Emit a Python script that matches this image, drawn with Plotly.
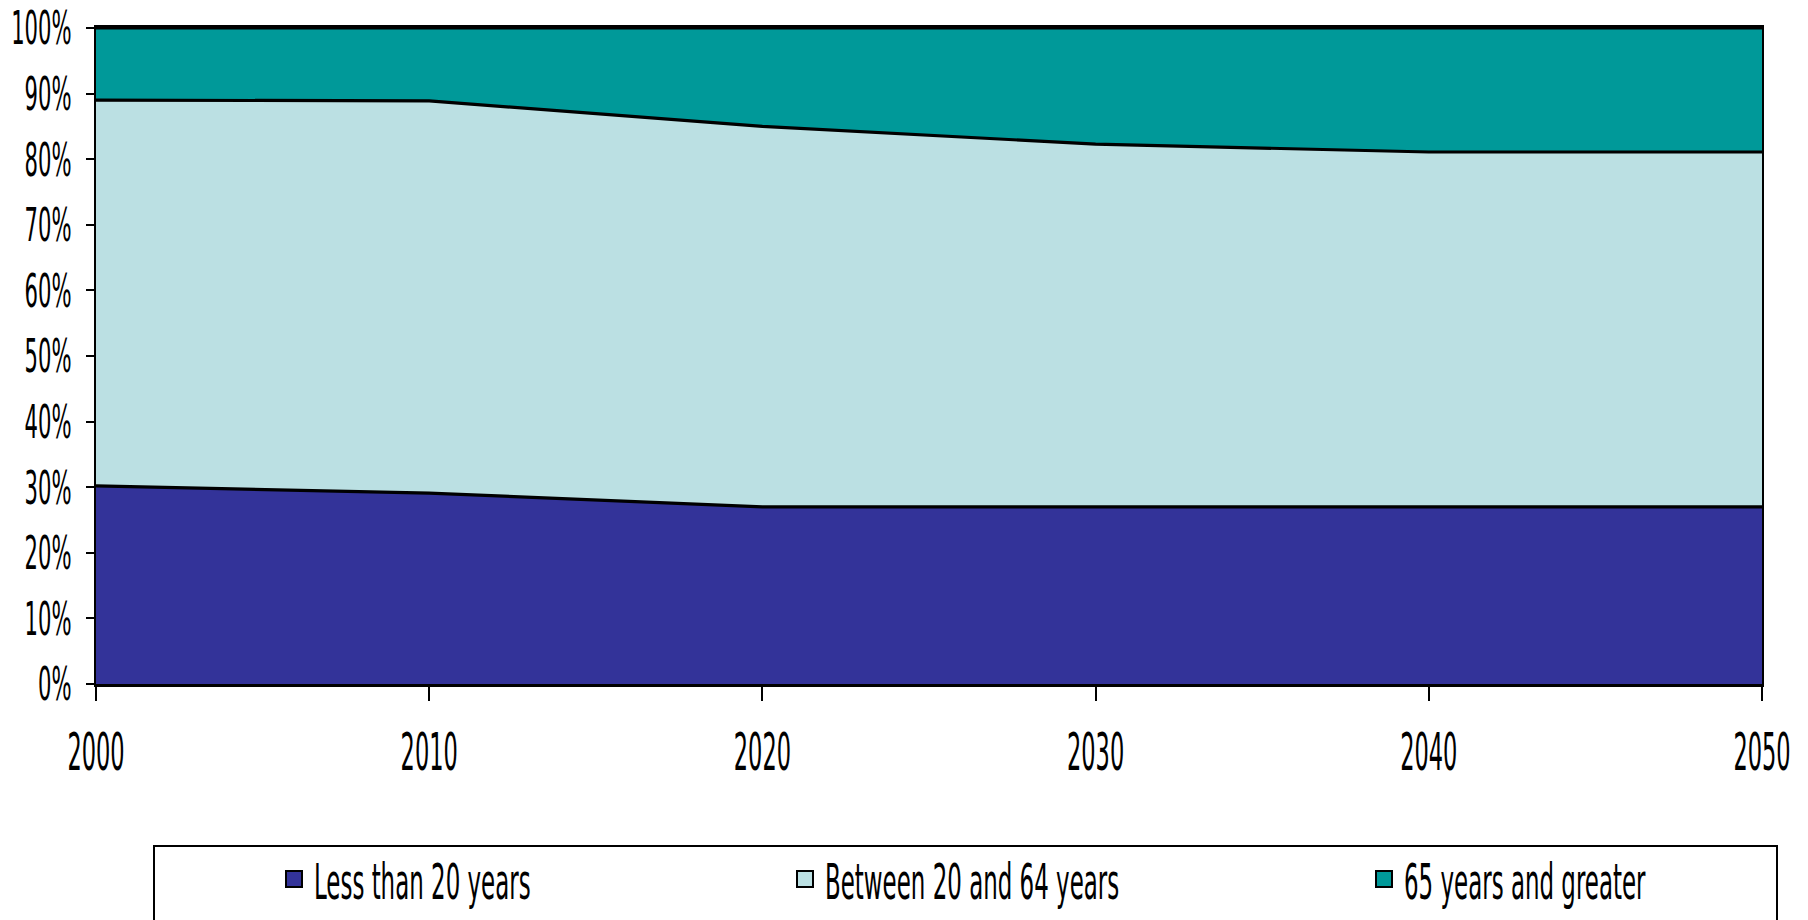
import plotly.graph_objects as go

years = [2000, 2010, 2020, 2030, 2040, 2050]
under_20 = [30.2, 29.1, 27.0, 27.0, 27.0, 27.0]
age_20_64 = [58.8, 59.8, 58.0, 55.3, 54.1, 54.1]
over_65 = [11.0, 11.1, 15.0, 17.7, 18.9, 18.9]

names = ["Less than 20 years", "Between 20 and 64 years", "65 years and greater"]
colors = ["#333399", "#BBE0E3", "#009999"]
y_ticks = list(range(0, 101, 10))
y_tick_text = [f"{v}%" for v in y_ticks]

FONT = "DejaVu Sans Condensed, Liberation Sans Narrow, Arial Narrow, sans-serif"

W, H = 1808, 920
L, R, T, B = 96, 46, 28, 236
pw, ph = W - L - R, H - T - B

def px_x(px):
    return (px - L) / pw

def px_y(py):
    return (H - B - py) / ph

fig = go.Figure()
for series, name, col in zip([under_20, age_20_64, over_65], names, colors):
    fig.add_trace(go.Scatter(
        x=years, y=series, name=name, mode="lines", stackgroup="one",
        fillcolor=col, line=dict(color="black", width=3.2), showlegend=False,
    ))
# legend entries (square swatches like the original), one legend per entry
legend_ids = ["legend", "legend2", "legend3"]
for name, col, lg in zip(names, colors, legend_ids):
    fig.add_trace(go.Scatter(
        x=[None], y=[None], name=name, mode="markers", legend=lg, showlegend=True,
        marker=dict(symbol="square", size=16, color=col, line=dict(color="black", width=2)),
    ))

legend_text_x = [315, 826, 1405]
common_legend = dict(orientation="h", yanchor="middle", xanchor="left",
                     bgcolor="rgba(0,0,0,0)", borderwidth=0,
                     font=dict(family=FONT, size=50, color="black"))
fig.update_layout(
    showlegend=True,
    legend=dict(x=px_x(legend_text_x[0] - 41), y=px_y(879), **common_legend),
    legend2=dict(x=px_x(legend_text_x[1] - 41), y=px_y(879), **common_legend),
    legend3=dict(x=px_x(legend_text_x[2] - 41), y=px_y(879), **common_legend),
)

fig.add_shape(type="rect", xref="paper", yref="paper",
              x0=px_x(154), x1=px_x(1777), y0=px_y(935), y1=px_y(846),
              line=dict(color="black", width=2), fillcolor="rgba(0,0,0,0)", layer="below")

fig.update_xaxes(range=[2000, 2050], tickvals=years, ticks="outside", ticklen=14,
                 tickwidth=2, tickcolor="black", showline=True, linecolor="black",
                 linewidth=3, mirror=True, showgrid=False, zeroline=False, automargin=False,
                 ticklabeloverflow="allow",
                 tickfont=dict(family=FONT, size=51, color="black"), ticklabelstandoff=8)
fig.update_yaxes(range=[0, 100], tickvals=y_ticks, ticktext=y_tick_text, ticks="outside",
                 ticklen=8, tickwidth=2, tickcolor="black", showline=True, linecolor="black",
                 linewidth=2, mirror=True, showgrid=False, zeroline=False, automargin=False,
                 ticklabeloverflow="allow",
                 tickfont=dict(family=FONT, size=47, color="black"), ticklabelstandoff=5)

fig.update_layout(width=W, height=H, margin=dict(l=L, r=R, t=T, b=B, autoexpand=False),
                  paper_bgcolor="white", plot_bgcolor="white", hovermode=False)

post_script = """
(function(){
  document.body.style.margin = '0';
  var gd = document.getElementById('{plot_id}');
  var spec = [['.ytick text', 0.50], ['.xtick text', 0.49], ['.infolayer text', 0.51]];
  function squash(){
    spec.forEach(function(s){
      gd.querySelectorAll(s[0]).forEach(function(el){
        if (el.getAttribute('data-squashed') === el.textContent) { return; }
        el.removeAttribute('textLength');
        el.removeAttribute('lengthAdjust');
        var w = el.getComputedTextLength();
        if (!w) { return; }
        el.setAttribute('lengthAdjust', 'spacingAndGlyphs');
        el.setAttribute('textLength', (w * s[1]).toFixed(2));
        el.setAttribute('data-squashed', el.textContent);
      });
    });
  }
  if (gd.on) { gd.on('plotly_afterplot', squash); }
  var obs = new MutationObserver(function(){ squash(); });
  obs.observe(gd, {childList: true, subtree: true});
  squash();
  [50, 200, 500, 1000, 2000].forEach(function(t){ setTimeout(squash, t); });
})();
"""

fig.write_html("out.html", post_script=post_script, config={"displayModeBar": False})
